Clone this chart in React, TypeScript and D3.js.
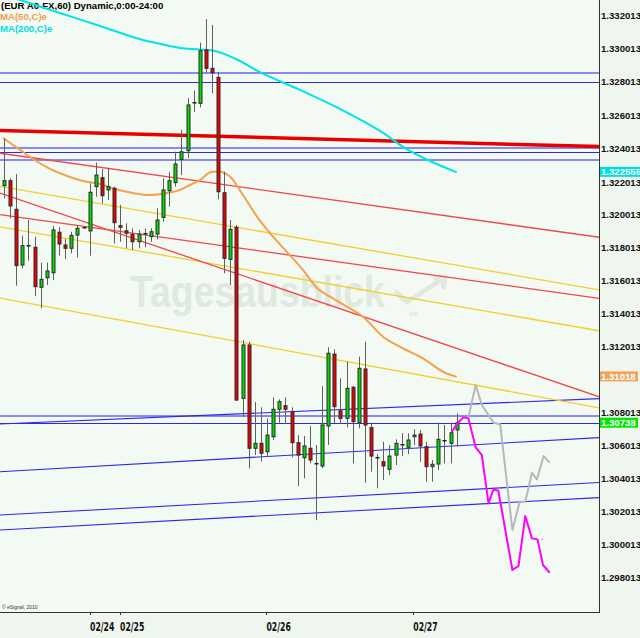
import React from 'react';
import * as d3 from 'd3';

// ---------- DATA ----------
const open = [1.32175,1.32205,1.32032,1.31695,1.31814,1.31802,1.31560,1.31618,1.31648,1.31893,1.31816,1.31796,1.31876,1.31923,1.31901,1.32169,1.32223,1.32149,1.32159,1.31933,1.31902,1.31881,1.31836,1.31890,1.31866,1.31882,1.31983,1.32144,1.32193,1.32334,1.32386,1.32683,1.32673,1.32996,1.32885,1.32830,1.32132,1.31729,1.31923,1.30888,1.31211,1.30586,1.30616,1.30565,1.30656,1.30822,1.30844,1.30807,1.30620,1.30529,1.30586,1.30499,1.30479,1.30721,1.31156,1.30813,1.30767,1.30955,1.30741,1.31066,1.30711,1.30531,1.30505,1.30459,1.30545,1.30610,1.30592,1.30656,1.30672,1.30596,1.30475,1.30491,1.30636,1.30616,1.30697];
const high = [1.32461,1.32219,1.32245,1.31872,1.31967,1.31866,1.31709,1.31709,1.31931,1.31923,1.31852,1.31896,1.31937,1.31929,1.32189,1.32314,1.32276,1.32282,1.32169,1.32058,1.31947,1.31917,1.31907,1.31917,1.31917,1.32038,1.32219,1.32259,1.32380,1.32512,1.32705,1.32749,1.33040,1.33183,1.33147,1.32864,1.32259,1.31967,1.31937,1.31241,1.31231,1.30866,1.30834,1.30767,1.30894,1.30882,1.30894,1.30834,1.30666,1.30660,1.30721,1.30606,1.30963,1.31197,1.31185,1.31009,1.31110,1.30963,1.31140,1.31231,1.30741,1.30551,1.30626,1.30606,1.30640,1.30677,1.30677,1.30701,1.30697,1.30626,1.30515,1.30741,1.30727,1.30741,1.30798];
const low = [1.32098,1.31977,1.31570,1.31675,1.31721,1.31507,1.31433,1.31574,1.31604,1.31751,1.31731,1.31766,1.31741,1.31917,1.31751,1.32108,1.32068,1.32088,1.31826,1.31836,1.31796,1.31786,1.31796,1.31802,1.31836,1.31850,1.31957,1.32048,1.32169,1.32239,1.32342,1.32622,1.32649,1.32858,1.32734,1.32092,1.31645,1.31574,1.30872,1.30777,1.30465,1.30545,1.30505,1.30535,1.30636,1.30741,1.30733,1.30531,1.30358,1.30404,1.30495,1.30152,1.30465,1.30606,1.30737,1.30733,1.30713,1.30495,1.30707,1.30378,1.30444,1.30344,1.30394,1.30424,1.30485,1.30539,1.30551,1.30606,1.30505,1.30384,1.30384,1.30455,1.30495,1.30495,1.30596];
const close = [1.32205,1.32052,1.31691,1.31812,1.31814,1.31564,1.31608,1.31659,1.31907,1.31822,1.31796,1.31874,1.31917,1.31920,1.32135,1.32239,1.32114,1.32169,1.31951,1.31923,1.31887,1.31836,1.31882,1.31890,1.31896,1.31967,1.32149,1.32205,1.32306,1.32380,1.32663,1.32683,1.32991,1.32885,1.32858,1.32138,1.31735,1.31911,1.30878,1.31211,1.30586,1.30616,1.30556,1.30666,1.30822,1.30868,1.30822,1.30620,1.30545,1.30600,1.30515,1.30499,1.30727,1.31161,1.30838,1.30767,1.30949,1.30747,1.31070,1.30727,1.30539,1.30531,1.30479,1.30539,1.30616,1.30610,1.30636,1.30666,1.30600,1.30475,1.30489,1.30640,1.30636,1.30680,1.30741];

// moving averages: [bar index, price]
const ma50 = [[-0.16,1.32463],[2.62,1.32391],[4.74,1.32336],[7.52,1.32276],[10.3,1.32233],[12.91,1.32203],[15.69,1.32185],[18.14,1.32155],[21.09,1.3213],[23.86,1.32118],[26.64,1.3213],[28.77,1.32149],[30.4,1.32179],[32.04,1.32209],[33.83,1.32257],[34.98,1.32261],[36.94,1.3223],[39.07,1.32118],[41.52,1.31979],[43.48,1.31888],[46.26,1.31773],[48.87,1.31665],[51.16,1.31556],[53.29,1.31503],[56.06,1.31443],[58.68,1.31382],[61.95,1.31261],[65.22,1.31191],[68.49,1.3113],[71.76,1.31049],[74,1.31018]];
const ma200 = [[-0.65,1.33334],[2.62,1.33298],[9.15,1.33219],[15.69,1.33141],[22.72,1.33056],[26.32,1.33026],[28.77,1.33008],[32.04,1.32999],[34.49,1.3299],[37.92,1.32941],[41.84,1.32862],[48.38,1.32754],[54.92,1.32639],[61.46,1.32506],[66.03,1.32391],[69.63,1.32324],[74,1.322555]];

// projections: [bar index, price]
const projMagenta = [[73.2,1.30686],[74.1,1.30737],[75.1,1.30773],[75.9,1.30767],[77.1,1.30592],[78.1,1.30545],[79.2,1.30253],[80,1.30338],[80.8,1.30329],[83.1,1.2985],[84.1,1.29874],[85.2,1.30176],[86.3,1.30041],[87.2,1.30035],[88.1,1.2988],[89.2,1.29833]];
const projGray = [[75.9,1.30773],[77.1,1.30969],[78.1,1.30848],[80,1.30741],[81.1,1.30731],[83.1,1.30092],[84.3,1.30263],[85.2,1.30263],[86.3,1.30438],[87.1,1.30398],[88.2,1.30539],[89.2,1.30499]];

// trend lines: [bar0, price0, bar1, price1]
const redLines = [[-0.65,1.32371,97.4,1.31862],[-0.65,1.32,97.4,1.31492],[-0.65,1.3213,97.4,1.30896]];
const yellowLines = [[-0.65,1.3217,97.4,1.31544],[-0.65,1.31925,97.4,1.31296],[-0.65,1.31495,97.4,1.3083]];
const blueSlopeLines = [[-0.65,1.30733,97.4,1.30887],[-0.65,1.30444,97.4,1.30651],[-0.65,1.30182,97.4,1.30379],[-0.65,1.30092,97.4,1.30288]];
const thickRedLine = [-0.65,1.32509,97.4,1.32411];
const blueLevels = [1.32799,1.32377,1.3074];
const lavenderLevels = [1.32854,1.32405,1.32331,1.30781];

const yTicks = [1.332013,1.330013,1.328013,1.326013,1.324013,1.322013,1.320013,1.318013,1.316013,1.314013,1.312013,1.310013,1.308013,1.306013,1.304013,1.302013,1.300013,1.298013];
const dayTicks = [[14.06,'02/24'],[18.96,'02/25'],[42.9,'02/26'],[66.9,'02/27']];
const priceTags = [[1.322555,'1.322555','#00dede'],[1.31018,'1.31018','#f0a45c'],[1.30738,'1.30738','#00e800']];
const title = '(EUR A0-FX,60) Dynamic,0:00-24:00';

// ---------- LAYOUT ----------
const W = 640, H = 638;
const PR = 599, PB = 612;

export default function App() {
  const x = d3.scaleLinear().domain([0, 74]).range([4, 4 + 74 * 6.118]);
  const y = d3.scaleLinear().domain([1.298013, 1.332013]).range([578, 16]);
  const line = d3.line<number[]>().x(d => x(d[0])).y(d => y(d[1]));
  const curve = d3.line<number[]>().x(d => x(d[0])).y(d => y(d[1])).curve(d3.curveMonotoneX);
  const seg = (l: number[]) => `M${x(l[0])},${y(l[1])}L${x(l[2])},${y(l[3])}`;
  const font = "'Liberation Sans', Arial, sans-serif";
  const tagYs = priceTags.map(p => y(p[0] as number));
  const visibleTicks = yTicks.filter(v => tagYs.every(ty => Math.abs(y(v) - ty) > 7));
  const wm = '#dfe9df';

  return (
    <div style={{ position: 'fixed', left: 0, top: 0, width: W, height: H }}>
      <svg width={W} height={H} style={{ display: 'block' }}>
        <defs>
          <clipPath id="plot"><rect x={0} y={0} width={PR} height={PB} /></clipPath>
        </defs>
        <rect x={0} y={0} width={W} height={H} fill="#eef6ee" />
        <rect x={0} y={0} width={PR} height={PB} fill="#f3f9f3" />
        <g clipPath="url(#plot)">
          {/* watermark */}
          <g transform="translate(130,307) scale(1,1.17)">
            <text x={0} y={0} fontFamily={font} fontWeight="bold" fontSize={37.4} fill={wm}>Tagesausblick</text>
          </g>
          <path d="M395,291 L407,302 L444,278 M433,278 L445,277 L443,289" fill="none" stroke={wm} strokeWidth={5} strokeLinejoin="round" />
          <text x={409} y={316} fontFamily={font} fontWeight="bold" fontSize={8} fill={wm}>de</text>
          <text x={1} y={9} fontFamily={font} fontWeight="bold" fontSize={9.6} fill="#000">{title}</text>
          <text x={0} y={20} fontFamily={font} fontWeight="bold" fontSize={9.6} fill="#f0a050">MA(50,C)e</text>
          <text x={0} y={32} fontFamily={font} fontWeight="bold" fontSize={9.6} fill="#00dede">MA(200,C)e</text>
          {lavenderLevels.map((v, i) => (
            <line key={'lv' + i} x1={0} x2={PR} y1={Math.round(y(v))} y2={Math.round(y(v))} stroke="#8a8af0" strokeWidth={2} />
          ))}
          {blueLevels.map((v, i) => (
            <line key={'bl' + i} x1={0} x2={PR} y1={Math.round(y(v)) + 0.5} y2={Math.round(y(v)) + 0.5} stroke="#2a2ae6" strokeWidth={1} />
          ))}
          {blueSlopeLines.map((l, i) => <path key={'bs' + i} d={seg(l)} stroke="#2a2ae6" strokeWidth={1.1} fill="none" />)}
          {yellowLines.map((l, i) => <path key={'yl' + i} d={seg(l)} stroke="#f2cf2a" strokeWidth={1.3} fill="none" />)}
          {redLines.map((l, i) => <path key={'rl' + i} d={seg(l)} stroke="#f04848" strokeWidth={1.3} fill="none" />)}
          <path d={seg(thickRedLine)} stroke="#e80000" strokeWidth={3.5} fill="none" />
          <path d={curve(ma200 as any) || ''} stroke="#00e4e4" strokeWidth={2} fill="none" />
          <path d={curve(ma50 as any) || ''} stroke="#f4a24c" strokeWidth={2} fill="none" />
          {/* candles */}
          {open.map((o, i) => {
            const c = close[i];
            const cx = Math.round(x(i));
            const yo = y(o), yc = y(c);
            const top = Math.min(yo, yc), bot = Math.max(yo, yc);
            const doji = Math.abs(o - c) < 0.00004;
            const col = c > o ? '#00dc00' : '#ee0000';
            return (
              <g key={'c' + i}>
                <line x1={cx + 0.5} x2={cx + 0.5} y1={y(high[i])} y2={y(low[i])} stroke="#5f5f5f" strokeWidth={1} />
                {doji ? (
                  <rect x={cx - 1.5} y={Math.round(top)} width={4} height={1.5} fill="#222" />
                ) : (
                  <rect x={cx - 1} y={top} width={3} height={Math.max(1, bot - top)} fill={col} stroke="#2a2a2a" strokeWidth={1} />
                )}
              </g>
            );
          })}
          <path d={line(projGray as any) || ''} stroke="#b8b8b8" strokeWidth={2} fill="none" strokeLinejoin="round" />
          <path d={line(projMagenta as any) || ''} stroke="#ff00ff" strokeWidth={2} fill="none" strokeLinejoin="round" />
          <rect x={x(87.9)} y={y(1.30035) - 0.5} width={1} height={1} fill="#ff00ff" />
          <text x={2} y={609} fontFamily={font} fontSize={5} fill="#333">© eSignal, 2010</text>
        </g>
        {/* axes */}
        <line x1={PR + 0.5} x2={PR + 0.5} y1={0} y2={PB + 1} stroke="#333" strokeWidth={1} />
        <line x1={0} x2={PR + 1} y1={PB + 0.5} y2={PB + 0.5} stroke="#333" strokeWidth={1} />
        {visibleTicks.map((v, i) => (
          <text key={'yt' + i} x={601} y={y(v) + (Math.abs(y(v) - tagYs[0]) < 12 ? 1.5 : 0)} dy="0.35em" fontFamily={font} fontWeight="bold" fontSize={9.6} fill="#111">{v.toFixed(6)}</text>
        ))}
        {priceTags.map((p, i) => (
          <g key={'pt' + i}>
            <rect x={600} y={y(p[0] as number) - 5.5} width={i === 0 ? 40 : 38} height={10} fill={p[2] as string} />
            <text x={601} y={y(p[0] as number) - 0.5} dy="0.35em" fontFamily={font} fontWeight="bold" fontSize={9.6} fill="#fff">{p[1]}</text>
          </g>
        ))}
        {dayTicks.map((d, i) => (
          <g key={'dt' + i}>
            <line x1={Math.round(x(d[0] as number)) + 0.5} x2={Math.round(x(d[0] as number)) + 0.5} y1={PB} y2={PB + 3} stroke="#333" />
            <g transform={`translate(${x(d[0] as number)},631) scale(0.86,1.25)`}>
              <text x={0} y={0} fontFamily="'Liberation Sans Narrow','DejaVu Sans Condensed',sans-serif" fontWeight="bold" fontSize={10} fill="#111">{d[1]}</text>
            </g>
          </g>
        ))}
      </svg>
    </div>
  );
}
